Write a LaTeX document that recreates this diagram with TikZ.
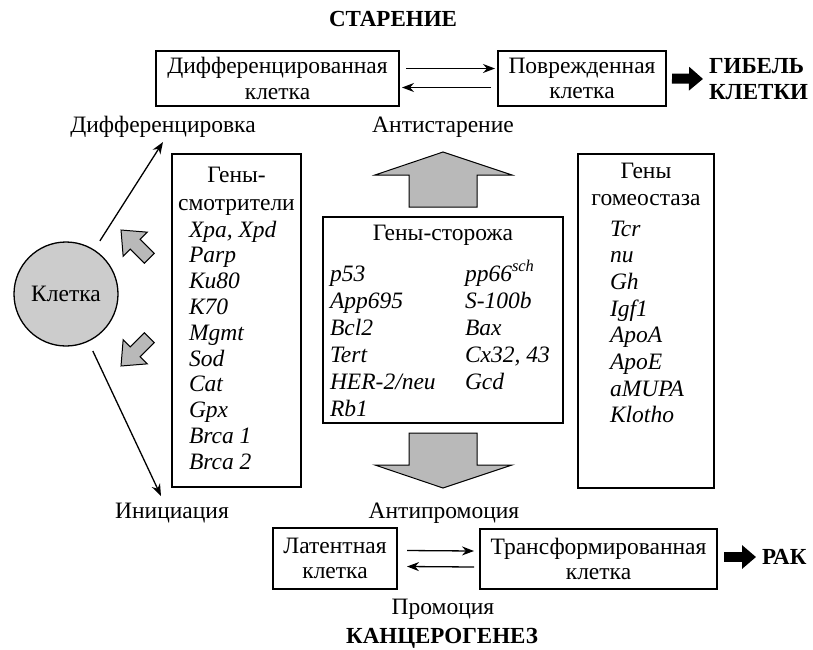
\documentclass[tikz,border=0pt]{standalone}
\usepackage{fontspec}
\setmainfont{Liberation Serif}
\usetikzlibrary{arrows.meta,calc}
\begin{document}
\begin{tikzpicture}[x=1pt,y=-1pt,
  every node/.style={inner sep=0pt, outer sep=0pt},
  lbl/.style={font=\fontsize{23.5}{25}\selectfont, anchor=base},
  ttl/.style={font=\fontsize{23}{26}\selectfont\bfseries},
  gene/.style={font=\fontsize{23.5}{25}\selectfont\itshape, anchor=base west},
  cellbox/.style={draw, line width=1.3pt, align=center, font=\fontsize{23.5}{25.5}\selectfont},
  listbox/.style={draw, line width=1.3pt},
  thinarr/.style={line width=1.3pt, -{Stealth[length=12pt,width=9pt]}},
  fatarr/.style={line width=10pt, shorten >=6pt, -{Triangle[length=14pt,width=23pt]}},
  block/.style={draw, line width=1pt, fill=gray!55, line join=miter},
]
\useasboundingbox (0,0) rectangle (813,649);

% titles
\node[ttl, anchor=base] (star) at (393,26) {СТАРЕНИЕ};
\node[ttl, anchor=base] (kanc) at (442,643) {КАНЦЕРОГЕНЕЗ};

% top cell boxes
\node[cellbox, minimum width=243pt, minimum height=55pt] (b1) at (277.5,78.5) {Дифференцированная\\клетка};
\node[cellbox, minimum width=168pt, minimum height=55pt] (b2) at (582,78.5) {Поврежденная\\клетка};
\draw[thinarr] ($(b1.east)+(7,-10)$) -- ($(b2.west)+(-3,-10)$);
\draw[thinarr] ($(b2.west)+(-7,9)$) -- ($(b1.east)+(3,9)$);
\node[ttl, align=left, anchor=west] (death) at (709,79) {ГИБЕЛЬ\\КЛЕТКИ};
\draw[fatarr] ($(b2.east)+(6,0)$) -- (death.west);

% labels
\node[lbl] (diff) at (163,132) {Дифференцировка};
\node[lbl] (antis) at (443,132) {Антистарение};
\node[lbl] (init) at (172,518) {Инициация};
\node[lbl] (antip) at (444,518) {Антипромоция};
\node[lbl] (prom) at (443,614) {Промоция};

% cell
\node[circle, draw, line width=1.3pt, fill=gray!40, minimum size=104pt,
      font=\fontsize{23.5}{25}\selectfont] (cell) at (66,294) {Клетка};
\coordinate (difftip) at (163,142);
\coordinate (inittip) at (161,496);
\draw[thinarr, shorten <=11pt] (cell) -- (difftip);
\draw[thinarr, shorten <=11pt] (cell) -- (inittip);

% small grey block arrows
\begin{scope}[shift={(149.3,258.3)}, rotate=135]
  \draw[block] (0,-7) -- (20,-7) -- (20,-17) -- (40,0) -- (20,17) -- (20,7) -- (0,7) -- cycle;
\end{scope}
\begin{scope}[shift={(149.3,337.7)}, rotate=225]
  \draw[block] (0,-7) -- (20,-7) -- (20,-17) -- (40,0) -- (20,17) -- (20,7) -- (0,7) -- cycle;
\end{scope}

% left gene box
\node[listbox, minimum width=129pt, minimum height=333pt] (lbox) at (236.5,320.5) {};
\node[lbl] (lh1) at (236.5,182) {Гены-};
\node[lbl] (lh2) at (236.5,210) {смотрители};
\foreach \g [count=\i] in {{Xpa, Xpd},Parp,Ku80,K70,Mgmt,Sod,Cat,Gpx,Brca 1,Brca 2}
  \node[gene] (lg\i) at (189,{237+25.8*(\i-1)}) {\g};

% centre gene box
\node[listbox, minimum width=240pt, minimum height=206pt] (cbox) at (443,320) {};
\node[lbl] (ch) at (443,240) {Гены-сторожа};
\foreach \g [count=\i] in {p53,App695,Bcl2,Tert,HER-2/neu,Rb1}
  \node[gene] (cg\i) at (330,{281+27*(\i-1)}) {\g};
\foreach \g [count=\i] in {pp66\textsuperscript{sch},S-100b,Bax,{Cx32, 43},Gcd}
  \node[gene] (cr\i) at (465,{281+27*(\i-1)}) {\g};

% right gene box
\node[listbox, minimum width=136pt, minimum height=334pt] (rbox) at (646,321) {};
\node[lbl] (rh1) at (646,178) {Гены};
\node[lbl] (rh2) at (646,205) {гомеостаза};
\foreach \g [count=\i] in {Tcr,nu,Gh,Igf1,ApoA,ApoE,aMUPA,Klotho}
  \node[gene] (rg\i) at (610,{236+26.7*(\i-1)}) {\g};

% big grey arrows
\draw[block] (409,207) -- (409,175) -- (375,175) -- (443,152) -- (512,175) -- (477,175) -- (477,207) -- cycle;
\draw[block] (409,433) -- (409,465) -- (375,465) -- (443,488) -- (512,465) -- (477,465) -- (477,433) -- cycle;

% bottom cell boxes
\node[cellbox, minimum width=124pt, minimum height=61pt] (lat) at (335,558.5) {Латентная\\клетка};
\node[cellbox, minimum width=237pt, minimum height=60pt] (tr) at (598.5,559) {Трансформированная\\клетка};
\draw[thinarr] ($(lat.east)+(10,-8)$) -- ($(tr.west)+(-6,-8)$);
\draw[thinarr] ($(tr.west)+(-6,8)$) -- ($(lat.east)+(10,8)$);
\node[ttl, anchor=west] (rak) at (762,557) {РАК};
\draw[fatarr] ($(tr.east)+(7,-2)$) -- (rak.west);
\end{tikzpicture}
\end{document}
